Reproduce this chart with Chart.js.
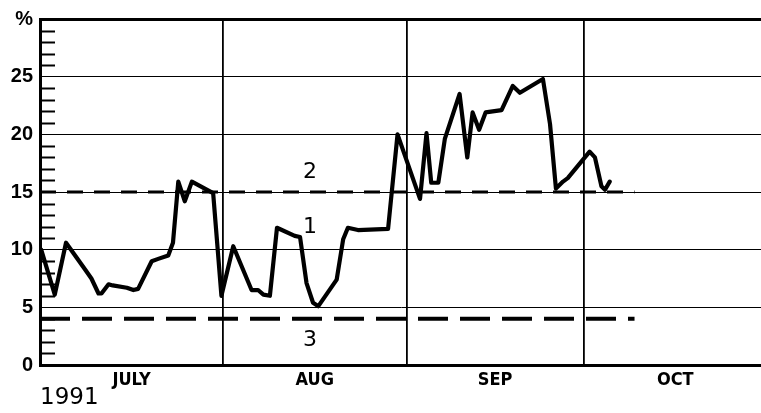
<!DOCTYPE html>
<html>
<head>
<meta charset="utf-8">
<script src="https://cdn.jsdelivr.net/npm/chart.js@4.4.1/dist/chart.umd.min.js"></script>
<style>
html, body { margin: 0; padding: 0; background: #fff; }
#chart { display: block; }
</style>
</head>
<body>
<canvas id="chart" width="761" height="413"></canvas>
<script>
// x values are days counted from 1 July 1991
const monthEdges = [31, 62, 92];
const monthMids = [15.5, 46.5, 77, 107.5];
const monthNames = ['JULY', 'AUG', 'SEP', 'OCT'];
const yearLabel = '1991';
const pctTicks = [0, 5, 10, 15, 20, 25, 30];

// curve 1
const days1 = [0.2, 2.5, 4.4, 7.6, 8.7, 9.9, 10.4, 11.6, 12.3, 14.7, 15.8, 16.6, 18.9, 20.0, 21.7, 22.5,
	23.4, 24.5, 25.7, 29.3, 30.7, 32.7, 35.8, 36.9, 37.8, 38.9, 40.1, 43.1, 44.0, 45.1, 46.2, 47.1,
	50.2, 51.3, 52.1, 53.8, 58.9, 60.5, 64.3, 65.4, 66.2, 67.4, 68.5, 71.0, 72.3, 73.2, 74.3, 75.4,
	78.1, 80.0, 81.2, 85.1, 86.3, 87.3, 88.5, 89.3, 93.0, 93.9, 95.0, 95.6, 96.4];
const pct1 = [10.0, 6.1, 10.6, 8.3, 7.5, 6.2, 6.2, 7.0, 6.9, 6.7, 6.5, 6.6, 9.0, 9.2, 9.5, 10.6,
	15.9, 14.2, 15.9, 14.9, 6.0, 10.3, 6.5, 6.5, 6.1, 6.0, 11.9, 11.2, 11.1, 7.1, 5.4, 5.1,
	7.4, 10.9, 11.9, 11.7, 11.8, 20.0, 14.4, 20.1, 15.8, 15.8, 19.6, 23.5, 18.0, 21.9, 20.4, 21.9,
	22.1, 24.2, 23.6, 24.8, 20.9, 15.3, 15.9, 16.2, 18.5, 18.0, 15.5, 15.2, 15.9];

// level 2
const days2 = [0, 100.6];
const pct2 = [15, 15];

// level 3
const days3 = [0, 100.6];
const pct3 = [4, 4];

// curve numbers written on the chart
const curveNames = ['1', '2', '3'];
const nameDays = [45.7, 45.7, 45.7];
const namePcts = [11.9, 16.7, 2.1];

const toPoints = (xs, ys) => xs.map((x, i) => ({ x: x, y: ys[i] }));

const extrasPlugin = {
	id: 'extras',
	afterDraw(chart) {
		const { ctx, chartArea, scales: { x, y } } = chart;
		ctx.save();
		// small inner ticks on the % axis
		ctx.strokeStyle = '#000';
		ctx.lineWidth = 2;
		for (let v = 1; v < 30; v++) {
			if (v % 5 === 0) continue;
			const py = Math.round(y.getPixelForValue(v)) + 0.5;
			ctx.beginPath();
			ctx.moveTo(chartArea.left, py);
			ctx.lineTo(chartArea.left + 15, py);
			ctx.stroke();
		}
		// curve numbers
		ctx.fillStyle = '#000';
		ctx.font = '22px "DejaVu Sans"';
		ctx.textAlign = 'center';
		ctx.textBaseline = 'middle';
		curveNames.forEach((t, i) => {
			ctx.fillText(t, x.getPixelForValue(nameDays[i]), y.getPixelForValue(namePcts[i]));
		});
		ctx.restore();
	}
};

new Chart(document.getElementById('chart').getContext('2d'), {
	type: 'line',
	data: {
		datasets: [
			{
				data: toPoints(days1, pct1),
				borderColor: '#000',
				borderWidth: 4.2,
				pointRadius: 0,
				tension: 0,
				borderJoinStyle: 'round',
				borderCapStyle: 'round'
			},
			{
				data: toPoints(days2, pct2),
				borderColor: '#000',
				borderWidth: 3,
				borderDash: [16, 11],
				pointRadius: 0
			},
			{
				data: toPoints(days3, pct3),
				borderColor: '#000',
				borderWidth: 4,
				borderDash: [30, 12],
				pointRadius: 0
			}
		]
	},
	options: {
		responsive: false,
		animation: false,
		layout: { padding: { top: 19, right: 0, left: 0, bottom: 0 } },
		plugins: {
			legend: { display: false },
			tooltip: { enabled: false }
		},
		scales: {
			x: {
				type: 'linear',
				min: 0,
				max: 122,
				afterBuildTicks: axis => {
					axis.ticks = monthMids.concat(monthEdges).sort((a, b) => a - b).map(v => ({ value: v }));
				},
				afterFit: axis => { axis.height = 48; },
				grid: {
					drawTicks: false,
					color: c => monthEdges.includes(c.tick && c.tick.value) ? '#000' : 'rgba(0,0,0,0)',
					lineWidth: 1.8
				},
				border: { color: '#000', width: 3 },
				ticks: {
					autoSkip: false,
					maxRotation: 0,
					padding: 5,
					color: '#000',
					font: { family: '"Liberation Sans Narrow", "DejaVu Sans Condensed", sans-serif', size: 18, weight: 'bold' },
					callback: v => {
						const i = monthMids.indexOf(v);
						return i >= 0 ? monthNames[i] : '';
					}
				},
				title: {
					display: true,
					text: yearLabel,
					align: 'start',
					color: '#000',
					font: { family: '"DejaVu Sans"', size: 23 },
					padding: { top: 0, bottom: 1 }
				}
			},
			y: {
				min: 0,
				max: 30,
				afterBuildTicks: axis => {
					axis.ticks = pctTicks.map(v => ({ value: v }));
				},
				afterFit: axis => { axis.width = 40; },
				grid: {
					drawTicks: false,
					color: '#000',
					lineWidth: c => (c.tick && c.tick.value === 30) ? 3 : 1
				},
				border: { color: '#000', width: 3 },
				ticks: {
					padding: 7,
					color: '#000',
					font: { family: '"Liberation Sans"', size: 20, weight: 'bold' },
					callback: v => v === 30 ? '%' : String(v)
				}
			}
		}
	},
	plugins: [extrasPlugin]
});
</script>
</body>
</html>
